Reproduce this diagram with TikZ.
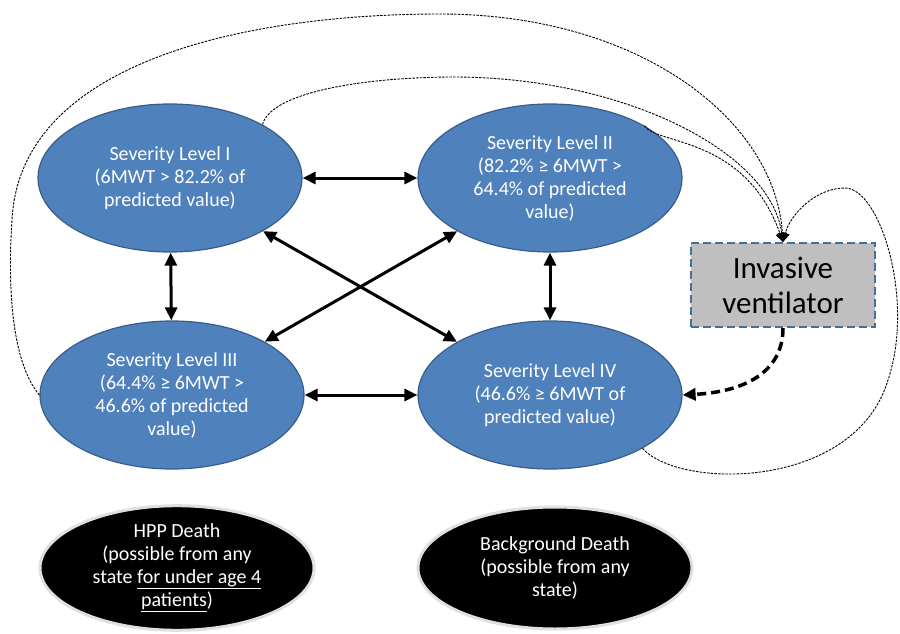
\documentclass[tikz,border=0pt]{standalone}
\usepackage{fontspec}
\setmainfont{Carlito}
\usetikzlibrary{arrows.meta}
\usetikzlibrary{shapes.geometric}

\definecolor{levelblue}{HTML}{4F81BD}
\definecolor{leveledge}{HTML}{385D8A}
\definecolor{ventedge}{HTML}{41719C}
\definecolor{ventgray}{HTML}{BFBFBF}

\begin{document}
\begin{tikzpicture}[%
  x=1pt, y=-1pt,
  >={Triangle[length=13pt, width=12pt]},
  level/.style={ellipse, fill=levelblue, draw=leveledge, line width=1.2pt,
    inner sep=0pt, minimum width=264pt, minimum height=148pt,
    text=white, align=center, font=\fontsize{20}{23}\selectfont},
  death/.style={ellipse, fill=black, draw=black!12, line width=3pt,
    inner sep=0pt, minimum width=274pt, minimum height=122pt,
    text=white, align=center, font=\fontsize{20}{23}\selectfont},
  ventbox/.style={rectangle, fill=ventgray, draw=ventedge, line width=2pt,
    dash pattern=on 8pt off 4pt, minimum width=184pt, minimum height=84pt,
    align=center, font=\fontsize{31}{35}\selectfont},
  move/.style={<->, line width=3pt},
  hop/.style={-{Triangle[length=9pt, width=9pt]}, line width=0.9pt,
    dash pattern=on 2.5pt off 1.2pt},
]

  \useasboundingbox (0,0) rectangle (900,634);

  % severity levels
  \node[level] (lvI)   at (170,178) {Severity Level I\\(6MWT > 82.2\% of\\predicted value)};
  \node[level] (lvII)  at (550,178) {Severity Level II\\(82.2\% ≥ 6MWT >\\64.4\% of predicted\\value)};
  \node[level] (lvIII) at (172,395) {Severity Level III\\(64.4\% ≥ 6MWT >\\46.6\% of predicted\\value)};
  \node[level] (lvIV)  at (550,395) {Severity Level IV\\(46.6\% ≥ 6MWT of\\predicted value)};

  \node[ventbox] (vent) at (783,285) {Invasive\\ventilator};

  % absorbing states
  \node[death] (hpp) at (177,568) {HPP Death\\(possible from any\\state \underline{for under age 4}\\\underline{patients})};
  \node[death] (bgd) at (555,568) {Background Death\\(possible from any\\state)};

  % moves between levels
  \draw[move] (lvI) -- (lvII);
  \draw[move] (lvIII) -- (lvIV);
  \draw[move] (lvI) -- (lvIII);
  \draw[move] (lvII) -- (lvIV);
  \draw[move] (lvI) -- (lvIV);
  \draw[move] (lvII) -- (lvIII);

  \draw[->, line width=3.5pt, dash pattern=on 9pt off 5pt]
    (vent.south) .. controls (783,375) and (740,392) .. (lvIV.east);

  % onto the ventilator
  \draw[hop] (lvIII.west) .. controls (10,360) and (8,280) .. (12,220)
    .. controls (20,60) and (250,14) .. (440,14)
    .. controls (640,14) and (775,120) .. (vent.north);
  \draw[hop] (lvI.30) .. controls (270,95) and (350,78) .. (450,77)
    .. controls (620,76) and (770,150) .. (vent.north);
  \draw[hop] (lvII.29) .. controls (655,145) and (745,135) .. (vent.north);
  \draw[hop] (lvIV.-30) .. controls (680,490) and (855,490) .. (888,380)
    .. controls (915,300) and (880,188) .. (845,188)
    .. controls (815,188) and (790,215) .. (vent.north);

\end{tikzpicture}
\end{document}
